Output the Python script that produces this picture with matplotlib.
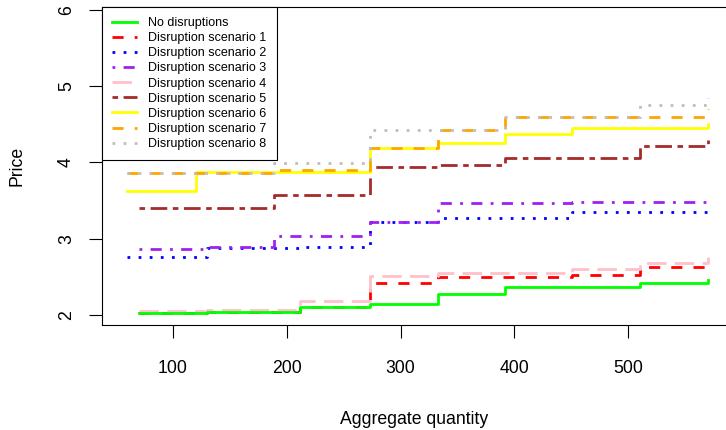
import matplotlib
matplotlib.use("Agg")
import matplotlib.pyplot as plt

# aggregate quantity breakpoints and prices of each step curve
x_base = [70, 130, 212, 273, 333, 392, 510, 570]
y_base = [2.02, 2.04, 2.10, 2.14, 2.27, 2.37, 2.42, 2.46]

x_s1 = [70, 130, 212, 273, 333, 451, 510, 570]
y_s1 = [2.02, 2.04, 2.10, 2.415, 2.50, 2.52, 2.63, 2.66]

x_s2 = [60, 130, 212, 273, 333, 451, 570]
y_s2 = [2.76, 2.875, 2.89, 3.22, 3.275, 3.35, 3.36]

x_s3 = [70, 130, 189, 273, 333, 451, 570]
y_s3 = [2.865, 2.89, 3.035, 3.22, 3.465, 3.485, 3.54]

x_s4 = [70, 130, 212, 273, 333, 451, 510, 570]
y_s4 = [2.056, 2.07, 2.18, 2.51, 2.55, 2.60, 2.68, 2.76]

x_s5 = [70, 189, 273, 333, 392, 510, 570]
y_s5 = [3.40, 3.575, 3.94, 3.97, 4.055, 4.22, 4.29]

x_s6 = [60, 120, 273, 333, 392, 451, 570]
y_s6 = [3.63, 3.87, 4.19, 4.25, 4.38, 4.455, 4.51]

x_s7 = [60, 189, 273, 333, 392, 570]
y_s7 = [3.86, 3.90, 4.19, 4.43, 4.59, 4.70]

x_s8 = [60, 189, 273, 333, 392, 510, 570]
y_s8 = [3.86, 3.99, 4.42, 4.43, 4.59, 4.76, 4.85]

labels = ["No disruptions"] + [f"Disruption scenario {i}" for i in range(1, 9)]
xs = [x_base, x_s1, x_s2, x_s3, x_s4, x_s5, x_s6, x_s7, x_s8]
ys = [y_base, y_s1, y_s2, y_s3, y_s4, y_s5, y_s6, y_s7, y_s8]

# R colours and lty patterns (1..8)
colors = ["#00FF00", "#FF0000", "#0000FF", "#A020F0", "#FFC0CB",
          "#A52A2A", "#FFFF00", "#FFA500", "#BEBEBE"]
dashes = [None, (4, 4), (1, 3), (1, 3, 4, 3), (7, 3), (2, 2, 6, 2),
          None, (4, 4), (1, 3)]

plt.rcParams["font.family"] = ["Liberation Sans", "DejaVu Sans"]

fig = plt.figure(figsize=(7.26, 4.30), dpi=100)
ax = fig.add_axes([102 / 726, 105 / 430, 1 - 102 / 726, 318 / 430])

for i, (x, y, c, d, lab) in enumerate(zip(xs, ys, colors, dashes, labels)):
    # base curve sits on top of scenario 1 where they coincide
    z = 2.5 if i == 0 else 2
    line, = ax.plot(x, y, drawstyle="steps-post", color=c, lw=2, label=lab, zorder=z)
    if d is not None:
        line.set_dashes(d)

ax.set_xlim(37.9, 585.8)
ax.set_ylim(1.869, 6.039)
ax.set_xticks([100, 200, 300, 400, 500])
ax.set_yticks([2, 3, 4, 5, 6])
ax.spines["right"].set_visible(False)
for s in ["left", "bottom", "top"]:
    ax.spines[s].set_linewidth(0.8)

ax.tick_params(axis="both", length=9.4, width=0.8, labelsize=12.7)
ax.tick_params(axis="x", pad=15.5)
ax.tick_params(axis="y", pad=10)
for t in ax.get_yticklabels():
    t.set_rotation(90)
    t.set_va("center")

ax.set_xlabel("Aggregate quantity", fontsize=12.7, labelpad=25)
ax.set_ylabel("Price", fontsize=12.7, labelpad=23.5)

leg = ax.legend(loc="upper left", fontsize=9, borderaxespad=0, fancybox=False,
                framealpha=1, edgecolor="black", labelspacing=0.25,
                handlelength=2.0, handletextpad=0.9, borderpad=0.8)
leg.get_frame().set_linewidth(0.8)

fig.savefig("out.png", dpi=100)
